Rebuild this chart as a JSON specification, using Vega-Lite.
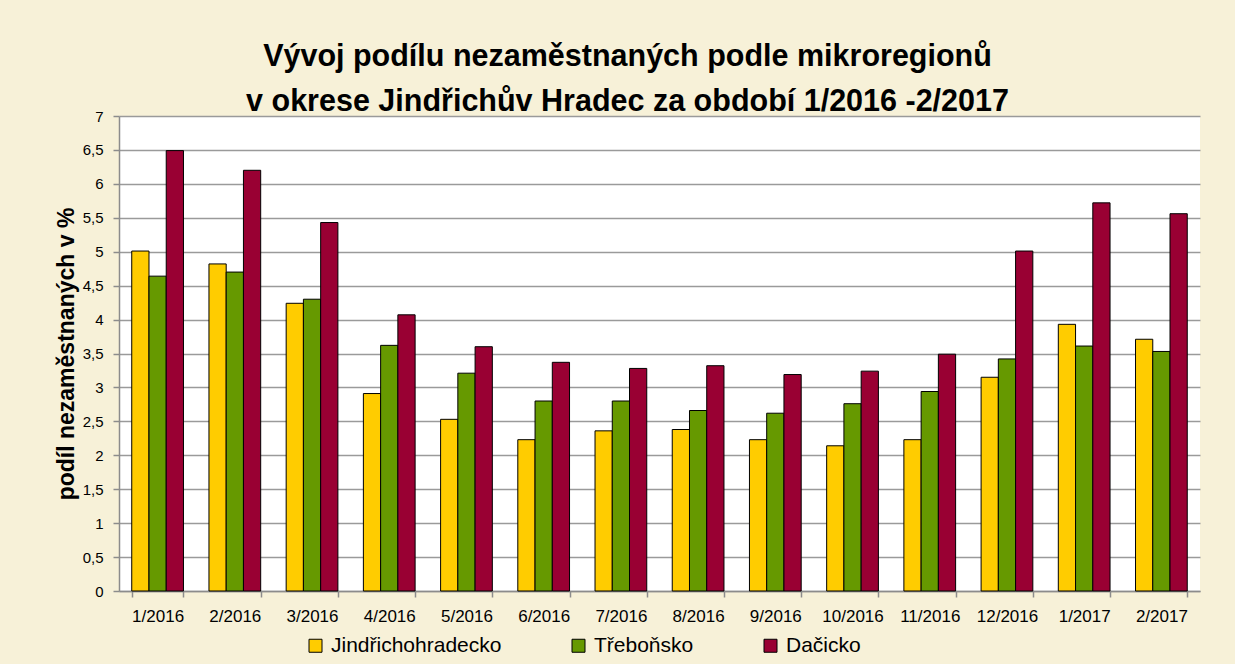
{
  "$schema": "https://vega.github.io/schema/vega-lite/v6.json",
  "autosize": "none",
  "width": 1081,
  "height": 475,
  "padding": {"left": 119, "top": 116, "right": 35, "bottom": 73},
  "background": "#F7F1D8",
  "title": {
    "text": ["Vývoj podílu nezaměstnaných podle mikroregionů", "v okrese Jindřichův Hradec za období 1/2016 -2/2017"],
    "font": "Liberation Sans",
    "fontSize": 30.5,
    "fontWeight": "bold",
    "color": "#000000",
    "anchor": "middle",
    "frame": "group",
    "dx": -32,
    "lineHeight": 45,
    "baseline": "alphabetic",
    "offset": -32
  },
  "config": {
    "view": {"stroke": null, "fill": "#FFFFFF"},
    "axis": {"labelFont": "Liberation Sans", "titleFont": "Liberation Sans", "labelColor": "#000000", "titleColor": "#000000", "domainColor": "#8C8C8C", "tickColor": "#8C8C8C", "gridColor": "#9A9A9A", "domainWidth": 1.5, "tickWidth": 1.5, "gridWidth": 1.5}
  },
  "data": {
    "values": [
      {"mesic": "1/2016", "region": "Jindřichohradecko", "podil": 5.01},
      {"mesic": "1/2016", "region": "Třeboňsko", "podil": 4.64},
      {"mesic": "1/2016", "region": "Dačicko", "podil": 6.49},
      {"mesic": "2/2016", "region": "Jindřichohradecko", "podil": 4.82},
      {"mesic": "2/2016", "region": "Třeboňsko", "podil": 4.70},
      {"mesic": "2/2016", "region": "Dačicko", "podil": 6.20},
      {"mesic": "3/2016", "region": "Jindřichohradecko", "podil": 4.24},
      {"mesic": "3/2016", "region": "Třeboňsko", "podil": 4.30},
      {"mesic": "3/2016", "region": "Dačicko", "podil": 5.43},
      {"mesic": "4/2016", "region": "Jindřichohradecko", "podil": 2.91},
      {"mesic": "4/2016", "region": "Třeboňsko", "podil": 3.62},
      {"mesic": "4/2016", "region": "Dačicko", "podil": 4.07},
      {"mesic": "5/2016", "region": "Jindřichohradecko", "podil": 2.53},
      {"mesic": "5/2016", "region": "Třeboňsko", "podil": 3.21},
      {"mesic": "5/2016", "region": "Dačicko", "podil": 3.60},
      {"mesic": "6/2016", "region": "Jindřichohradecko", "podil": 2.23},
      {"mesic": "6/2016", "region": "Třeboňsko", "podil": 2.80},
      {"mesic": "6/2016", "region": "Dačicko", "podil": 3.37},
      {"mesic": "7/2016", "region": "Jindřichohradecko", "podil": 2.36},
      {"mesic": "7/2016", "region": "Třeboňsko", "podil": 2.80},
      {"mesic": "7/2016", "region": "Dačicko", "podil": 3.28},
      {"mesic": "8/2016", "region": "Jindřichohradecko", "podil": 2.38},
      {"mesic": "8/2016", "region": "Třeboňsko", "podil": 2.66},
      {"mesic": "8/2016", "region": "Dačicko", "podil": 3.32},
      {"mesic": "9/2016", "region": "Jindřichohradecko", "podil": 2.23},
      {"mesic": "9/2016", "region": "Třeboňsko", "podil": 2.62},
      {"mesic": "9/2016", "region": "Dačicko", "podil": 3.19},
      {"mesic": "10/2016", "region": "Jindřichohradecko", "podil": 2.14},
      {"mesic": "10/2016", "region": "Třeboňsko", "podil": 2.76},
      {"mesic": "10/2016", "region": "Dačicko", "podil": 3.24},
      {"mesic": "11/2016", "region": "Jindřichohradecko", "podil": 2.23},
      {"mesic": "11/2016", "region": "Třeboňsko", "podil": 2.94},
      {"mesic": "11/2016", "region": "Dačicko", "podil": 3.49},
      {"mesic": "12/2016", "region": "Jindřichohradecko", "podil": 3.15},
      {"mesic": "12/2016", "region": "Třeboňsko", "podil": 3.42},
      {"mesic": "12/2016", "region": "Dačicko", "podil": 5.01},
      {"mesic": "1/2017", "region": "Jindřichohradecko", "podil": 3.93},
      {"mesic": "1/2017", "region": "Třeboňsko", "podil": 3.61},
      {"mesic": "1/2017", "region": "Dačicko", "podil": 5.72},
      {"mesic": "2/2017", "region": "Jindřichohradecko", "podil": 3.71},
      {"mesic": "2/2017", "region": "Třeboňsko", "podil": 3.53},
      {"mesic": "2/2017", "region": "Dačicko", "podil": 5.56}
    ]
  },
  "mark": {"type": "bar", "stroke": "#000000", "strokeWidth": 1},
  "encoding": {
    "x": {
      "field": "mesic",
      "type": "nominal",
      "sort": null,
      "scale": {"paddingInner": 0.33, "paddingOuter": 0.165},
      "axis": {"title": null, "labelAngle": 0, "labelFontSize": 17, "labelPadding": 11, "tickBand": "extent", "tickSize": 6, "grid": false}
    },
    "xOffset": {
      "field": "region",
      "type": "nominal",
      "sort": ["Jindřichohradecko", "Třeboňsko", "Dačicko"],
      "scale": {"paddingInner": 0, "paddingOuter": 0}
    },
    "y": {
      "field": "podil",
      "type": "quantitative",
      "scale": {"domain": [0, 7], "nice": false},
      "axis": {
        "title": "podíl  nezaměstnaných v %",
        "titleFontSize": 23,
        "titleFontWeight": "bold",
        "titlePadding": 4,
        "values": [0, 0.5, 1, 1.5, 2, 2.5, 3, 3.5, 4, 4.5, 5, 5.5, 6, 6.5, 7],
        "labelExpr": "replace(toString(datum.value), '.', ',')",
        "labelFontSize": 15,
        "labelPadding": 10,
        "tickSize": 6,
        "grid": true
      }
    },
    "color": {
      "field": "region",
      "type": "nominal",
      "sort": ["Jindřichohradecko", "Třeboňsko", "Dačicko"],
      "scale": {"domain": ["Jindřichohradecko", "Třeboňsko", "Dačicko"], "range": ["#FFCC00", "#669900", "#990033"]},
      "legend": {
        "title": null,
        "orient": "none",
        "direction": "horizontal",
        "legendX": 186,
        "legendY": 519,
        "symbolType": "square",
        "symbolSize": 169,
        "symbolStrokeColor": "#000000",
        "symbolStrokeWidth": 1,
        "symbolOpacity": 1,
        "labelFont": "Liberation Sans",
        "labelFontSize": 21,
        "labelLimit": 0,
        "labelColor": "#000000",
        "labelOffset": 5,
        "columnPadding": 66,
        "padding": 0
      }
    }
  }
}
